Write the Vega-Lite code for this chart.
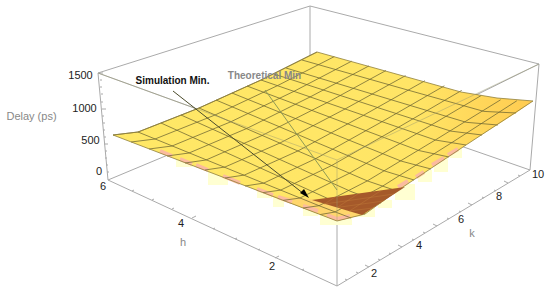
{
"$schema":"https://vega.github.io/schema/vega-lite/v6.json",
"width":550,"height":291,"padding":0,
"autosize":{"type":"fit","contains":"padding"},
"background":"white",
"config":{"view":{"stroke":null},"axis":{"disable":true},"legend":{"disable":true}},
"datasets":{
"backBox":[
{"x":98,"y":73,"x2":310,"y2":6},{"x":310,"y":6,"x2":539,"y2":64},{"x":310,"y":6,"x2":310,"y2":60},
{"x":98,"y":73,"x2":108,"y2":180},{"x":539,"y":64,"x2":530,"y2":170},
{"x":108,"y":180,"x2":337,"y2":286},{"x":337,"y":286,"x2":530,"y2":170},
{"x":108,"y":180,"x2":175,"y2":152},{"x":530,"y":170,"x2":455,"y2":144},
{"x":98,"y":73,"x2":200,"y2":110},{"x":539,"y":64,"x2":470,"y2":98},{"x":337,"y":215,"x2":337,"y2":286},
{"x":99,"y":73,"x2":103,"y2":73},{"x":100,"y":80,"x2":102,"y2":80},{"x":100,"y":87,"x2":102,"y2":87},{"x":101,"y":94,"x2":103,"y2":94},{"x":101,"y":102,"x2":103,"y2":102},
{"x":102,"y":109,"x2":106,"y2":109},{"x":102,"y":116,"x2":104,"y2":116},{"x":103,"y":123,"x2":105,"y2":123},{"x":103,"y":130,"x2":105,"y2":130},{"x":104,"y":137,"x2":106,"y2":137},
{"x":104,"y":144,"x2":108,"y2":144},{"x":105,"y":151,"x2":107,"y2":151},{"x":105,"y":158,"x2":107,"y2":158},{"x":106,"y":165,"x2":108,"y2":165},{"x":107,"y":172,"x2":109,"y2":172},
{"x":132,"y":191,"x2":134,"y2":190},{"x":152,"y":200,"x2":154,"y2":199},{"x":172,"y":209,"x2":174,"y2":208},{"x":192,"y":218,"x2":196,"y2":216},{"x":213,"y":229,"x2":215,"y2":228},{"x":235,"y":239,"x2":237,"y2":238},{"x":258,"y":250,"x2":260,"y2":249},{"x":275,"y":258,"x2":279,"y2":256},{"x":302,"y":270,"x2":304,"y2":269},
{"x":347,"y":280,"x2":345,"y2":279},{"x":358,"y":273,"x2":356,"y2":272},{"x":369,"y":267,"x2":365,"y2":265},{"x":380,"y":260,"x2":378,"y2":259},{"x":391,"y":254,"x2":389,"y2":253},{"x":402,"y":247,"x2":398,"y2":245},{"x":414,"y":240,"x2":412,"y2":239},{"x":425,"y":233,"x2":423,"y2":232},{"x":437,"y":226,"x2":433,"y2":224},{"x":449,"y":219,"x2":447,"y2":218},{"x":461,"y":212,"x2":459,"y2":211},{"x":472,"y":205,"x2":468,"y2":203},{"x":484,"y":198,"x2":482,"y2":197},{"x":496,"y":191,"x2":494,"y2":190},{"x":508,"y":183,"x2":504,"y2":181},{"x":520,"y":176,"x2":518,"y2":175}
],
"halo":[
{"x":176,"x2":193,"y":160,"y2":167},{"x":208,"x2":228,"y":172,"y2":185},{"x":257,"x2":272,"y":190,"y2":198},{"x":273,"x2":284,"y":197,"y2":207},{"x":303,"x2":318,"y":207,"y2":216},{"x":320,"x2":352,"y":214,"y2":225},{"x":355,"x2":375,"y":208,"y2":217},{"x":378,"x2":392,"y":200,"y2":208},{"x":395,"x2":415,"y":184,"y2":200},{"x":418,"x2":432,"y":170,"y2":182},{"x":434,"x2":448,"y":158,"y2":172},{"x":450,"x2":462,"y":148,"y2":158}
],
"surface":[
{"i":0,"x":113,"y":135},{"i":1,"x":138,"y":132},{"i":2,"x":161,"y":123},{"i":3,"x":199,"y":108},{"i":4,"x":261,"y":80},{"i":5,"x":317,"y":52},{"i":6,"x":389,"y":72},{"i":7,"x":461,"y":92},{"i":8,"x":497,"y":98},{"i":9,"x":533,"y":101},{"i":10,"x":516,"y":113},{"i":11,"x":466,"y":145},{"i":12,"x":397,"y":191},{"i":13,"x":365,"y":214},{"i":14,"x":337,"y":221},{"i":15,"x":225,"y":178},{"i":16,"x":113,"y":135}
],
"front":[{"i":0,"x":268,"y":195},{"i":1,"x":312,"y":199},{"i":2,"x":362,"y":215},{"i":3,"x":337,"y":221},{"i":4,"x":268,"y":195}],
"mesh":[
{"s":"k1","x":138,"y":132},{"s":"k1","x":244.5,"y":175.4},{"s":"k1","x":319,"y":205.7},{"s":"k1","x":351,"y":218},
{"s":"k2","x":161,"y":123},{"s":"k2","x":263,"y":169.2},{"s":"k2","x":334.4,"y":201.5},{"s":"k2","x":365,"y":214},
{"s":"k3","x":181,"y":115},{"s":"k3","x":281,"y":160},{"s":"k3","x":351,"y":191.5},{"s":"k3","x":381,"y":203},
{"s":"k4","x":199,"y":108},{"s":"k4","x":298,"y":151},{"s":"k4","x":367.3,"y":180.9},{"s":"k4","x":397,"y":191},
{"s":"k5","x":216,"y":100},{"s":"k5","x":315,"y":141.8},{"s":"k5","x":384.3,"y":170.9},{"s":"k5","x":414,"y":180},
{"s":"k6","x":232,"y":93},{"s":"k6","x":331.5,"y":133.1},{"s":"k6","x":401.2,"y":161.1},{"s":"k6","x":431,"y":169},
{"s":"k7","x":247,"y":86},{"s":"k7","x":348,"y":124},{"s":"k7","x":418.7,"y":150.5},{"s":"k7","x":449,"y":157},
{"s":"k8","x":261,"y":80},{"s":"k8","x":363.5,"y":115.3},{"s":"k8","x":435.3,"y":140},{"s":"k8","x":466,"y":145},
{"s":"k9","x":274,"y":74},{"s":"k9","x":378,"y":107.7},{"s":"k9","x":450.8,"y":131.1},{"s":"k9","x":482,"y":135},
{"s":"k10","x":286,"y":68},{"s":"k10","x":392,"y":100},{"s":"k10","x":466.2,"y":122.3},{"s":"k10","x":498,"y":125},
{"s":"k11","x":302,"y":60},{"s":"k11","x":409,"y":90.4},{"s":"k11","x":483.9,"y":111.4},{"s":"k11","x":516,"y":113},
{"s":"h0","x":113,"y":135},{"s":"h0","x":138,"y":132},{"s":"h0","x":199,"y":108},{"s":"h0","x":261,"y":80},{"s":"h0","x":317,"y":52},
{"s":"h1","x":131,"y":142},{"s":"h1","x":155,"y":139},{"s":"h1","x":215,"y":115},{"s":"h1","x":277.4,"y":85.7},{"s":"h1","x":334.3,"y":56.6},
{"s":"h2","x":149,"y":149},{"s":"h2","x":172,"y":146},{"s":"h2","x":231,"y":121.7},{"s":"h2","x":294,"y":91.3},{"s":"h2","x":351.6,"y":61.2},
{"s":"h3","x":167,"y":156},{"s":"h3","x":189,"y":153},{"s":"h3","x":246.5,"y":128.6},{"s":"h3","x":310,"y":97},{"s":"h3","x":369,"y":65.9},
{"s":"h4","x":185,"y":163},{"s":"h4","x":206,"y":160},{"s":"h4","x":262,"y":135.5},{"s":"h4","x":327,"y":102.7},{"s":"h4","x":386,"y":70.5},
{"s":"h5","x":205,"y":170},{"s":"h5","x":225,"y":167},{"s":"h5","x":280,"y":143},{"s":"h5","x":345,"y":109},{"s":"h5","x":405.6,"y":75.6},
{"s":"h6","x":225,"y":178},{"s":"h6","x":244.5,"y":175},{"s":"h6","x":298,"y":150.9},{"s":"h6","x":363.5,"y":115.3},{"s":"h6","x":425,"y":80.7},
{"s":"h7","x":245,"y":186},{"s":"h7","x":263.7,"y":183.1},{"s":"h7","x":315.8,"y":158.6},{"s":"h7","x":382,"y":121.7},{"s":"h7","x":444.4,"y":85.8},
{"s":"h8","x":263,"y":192.6},{"s":"h8","x":280.7,"y":190.1},{"s":"h8","x":331.7,"y":165.5},{"s":"h8","x":398.4,"y":127.3},{"s":"h8","x":461.7,"y":90.4},
{"s":"h9","x":283,"y":200.4},{"s":"h9","x":300,"y":198},{"s":"h9","x":349.5,"y":173.2},{"s":"h9","x":416.8,"y":133.6},{"s":"h9","x":481.2,"y":95.5},
{"s":"h10","x":303,"y":208},{"s":"h10","x":319,"y":205.7},{"s":"h10","x":367.3,"y":180.9},{"s":"h10","x":435.3,"y":140},{"s":"h10","x":500.6,"y":99.8},
{"s":"h11","x":320,"y":214.6},{"s":"h11","x":335,"y":212},{"s":"h11","x":382.2,"y":186.4},{"s":"h11","x":450.6,"y":143.4},{"s":"h11","x":516.8,"y":100.8}
],
"edge":[
{"x":113,"y":135,"x2":138,"y2":132},{"x":138,"y":132,"x2":161,"y2":123},{"x":161,"y":123,"x2":199,"y2":108},{"x":199,"y":108,"x2":261,"y2":80},{"x":261,"y":80,"x2":317,"y2":52},
{"x":317,"y":52,"x2":389,"y2":72},{"x":389,"y":72,"x2":461,"y2":92},{"x":461,"y":92,"x2":497,"y2":98},{"x":497,"y":98,"x2":533,"y2":101},
{"x":533,"y":101,"x2":466,"y2":145},{"x":466,"y":145,"x2":397,"y2":191},{"x":397,"y":191,"x2":365,"y2":214},{"x":365,"y":214,"x2":337,"y2":221},{"x":337,"y":221,"x2":113,"y2":135}
],
"pink":[
{"x":160,"y":151,"x2":172,"y2":156},{"x":180,"y":159,"x2":192,"y2":164},{"x":196,"y":165,"x2":208,"y2":170},{"x":223,"y":176,"x2":240,"y2":183},{"x":257,"y":189,"x2":273,"y2":195},{"x":278,"y":197,"x2":292,"y2":202},{"x":303,"y":206,"x2":318,"y2":211},{"x":327,"y":215,"x2":337,"y2":219},{"x":337,"y":219,"x2":350,"y2":216},{"x":398,"y":187,"x2":408,"y2":181},{"x":416,"y":177,"x2":424,"y2":172},{"x":432,"y":165,"x2":444,"y2":158},{"x":448,"y":155,"x2":458,"y2":149}
],
"brown":[{"i":0,"x":312,"y":200},{"i":1,"x":405,"y":187},{"i":2,"x":362,"y":215},{"i":3,"x":312,"y":200}],
"brownMesh":[
{"x":335,"y":197,"x2":324.5,"y2":204},{"x":358.5,"y":193.5,"x2":337,"y2":207.5},{"x":382,"y":190,"x2":349.5,"y2":211},
{"x":324.5,"y":204,"x2":394,"y2":194},{"x":337,"y":207.5,"x2":383.5,"y2":201},{"x":349.5,"y":211,"x2":373,"y2":208}
],
"head":[{"i":0,"x":300,"y":193},{"i":1,"x":304,"y":189},{"i":2,"x":309,"y":198},{"i":3,"x":300,"y":193}],
"frontBox":[{"x":98,"y":73,"x2":337,"y2":160},{"x":539,"y":64,"x2":337,"y2":160},{"x":337,"y":160,"x2":337,"y2":221}],
"theory":[{"x":265,"y":90,"x2":337,"y2":190}],
"sim":[{"x":173,"y":91,"x2":304,"y2":194}],
"dark":[
{"t":"1500","x":80.5,"y":76},{"t":"1000","x":84.5,"y":109},{"t":"500","x":90.5,"y":141},{"t":"0","x":99,"y":172},
{"t":"6","x":103,"y":187},{"t":"4","x":181,"y":224},{"t":"2","x":272,"y":267},
{"t":"2","x":374,"y":274},{"t":"4","x":419,"y":246},{"t":"6","x":461,"y":220},{"t":"8","x":499,"y":197},{"t":"10","x":538,"y":175}
],
"gray":[{"t":"Delay (ps)","x":31.5,"y":117},{"t":"h","x":183,"y":243},{"t":"k","x":472,"y":234}]
},
"encoding":{
"x":{"field":"x","type":"quantitative","scale":{"domain":[0,550],"nice":false,"zero":false}},
"y":{"field":"y","type":"quantitative","scale":{"domain":[291,0],"nice":false,"zero":false}}
},
"layer":[
{"data":{"name":"backBox"},"mark":{"type":"rule","stroke":"#aaaaaa","strokeWidth":1},"encoding":{"x2":{"field":"x2"},"y2":{"field":"y2"}}},
{"data":{"name":"halo"},"mark":{"type":"rect","fill":"#ffffd2"},"encoding":{"x2":{"field":"x2"},"y2":{"field":"y2"}}},
{"data":{"name":"surface"},"mark":{"type":"line","fill":{"gradient":"linear","x1":0,"y1":0,"x2":1,"y2":0,"stops":[{"offset":0,"color":"#ffe866"},{"offset":0.72,"color":"#ffe566"},{"offset":1,"color":"#ffcb50"}]},"stroke":null},"encoding":{"order":{"field":"i"}}},
{"data":{"name":"front"},"mark":{"type":"line","fill":"#ffd66c","stroke":null},"encoding":{"order":{"field":"i"}}},
{"data":{"name":"pink"},"mark":{"type":"rule","stroke":"#fbbb9f","strokeWidth":4},"encoding":{"x2":{"field":"x2"},"y2":{"field":"y2"}}},
{"data":{"name":"mesh"},"mark":{"type":"line","stroke":"#6e6632","strokeWidth":0.9,"opacity":0.85},"encoding":{"detail":{"field":"s"}}},
{"data":{"name":"edge"},"mark":{"type":"rule","stroke":"#8f7f3a","strokeWidth":0.8},"encoding":{"x2":{"field":"x2"},"y2":{"field":"y2"}}},
{"data":{"name":"brown"},"mark":{"type":"line","fill":"#a5592a","stroke":null},"encoding":{"order":{"field":"i"}}},
{"data":{"name":"brownMesh"},"mark":{"type":"rule","stroke":"#c8833f","strokeWidth":0.6,"opacity":0.6},"encoding":{"x2":{"field":"x2"},"y2":{"field":"y2"}}},
{"data":{"name":"frontBox"},"mark":{"type":"rule","stroke":"#9a9a70","strokeWidth":0.9,"opacity":0.5},"encoding":{"x2":{"field":"x2"},"y2":{"field":"y2"}}},
{"data":{"name":"theory"},"mark":{"type":"rule","stroke":"#8f9a55","strokeWidth":1},"encoding":{"x2":{"field":"x2"},"y2":{"field":"y2"}}},
{"data":{"name":"sim"},"mark":{"type":"rule","stroke":"#4a4a2a","strokeWidth":1},"encoding":{"x2":{"field":"x2"},"y2":{"field":"y2"}}},
{"data":{"name":"head"},"mark":{"type":"line","fill":"#000000","stroke":null},"encoding":{"order":{"field":"i"}}},
{"data":{"name":"dark"},"mark":{"type":"text","font":"Liberation Sans","fontSize":11,"fill":"#222222","baseline":"middle","align":"center"},"encoding":{"text":{"field":"t"}}},
{"data":{"name":"gray"},"mark":{"type":"text","font":"Liberation Sans","fontSize":11,"fill":"#888888","baseline":"middle","align":"center"},"encoding":{"text":{"field":"t"}}},
{"data":{"values":[{"t":"Simulation Min.","x":172.5,"y":81}]},"mark":{"type":"text","font":"Liberation Sans","fontSize":10,"fontWeight":"bold","fill":"#111111","baseline":"middle","align":"center"},"encoding":{"text":{"field":"t"}}},
{"data":{"values":[{"t":"Theoretical Min","x":264.5,"y":76}]},"mark":{"type":"text","font":"Liberation Sans","fontSize":10,"fontWeight":"bold","fill":"#888888","baseline":"middle","align":"center"},"encoding":{"text":{"field":"t"}}}
]
}
